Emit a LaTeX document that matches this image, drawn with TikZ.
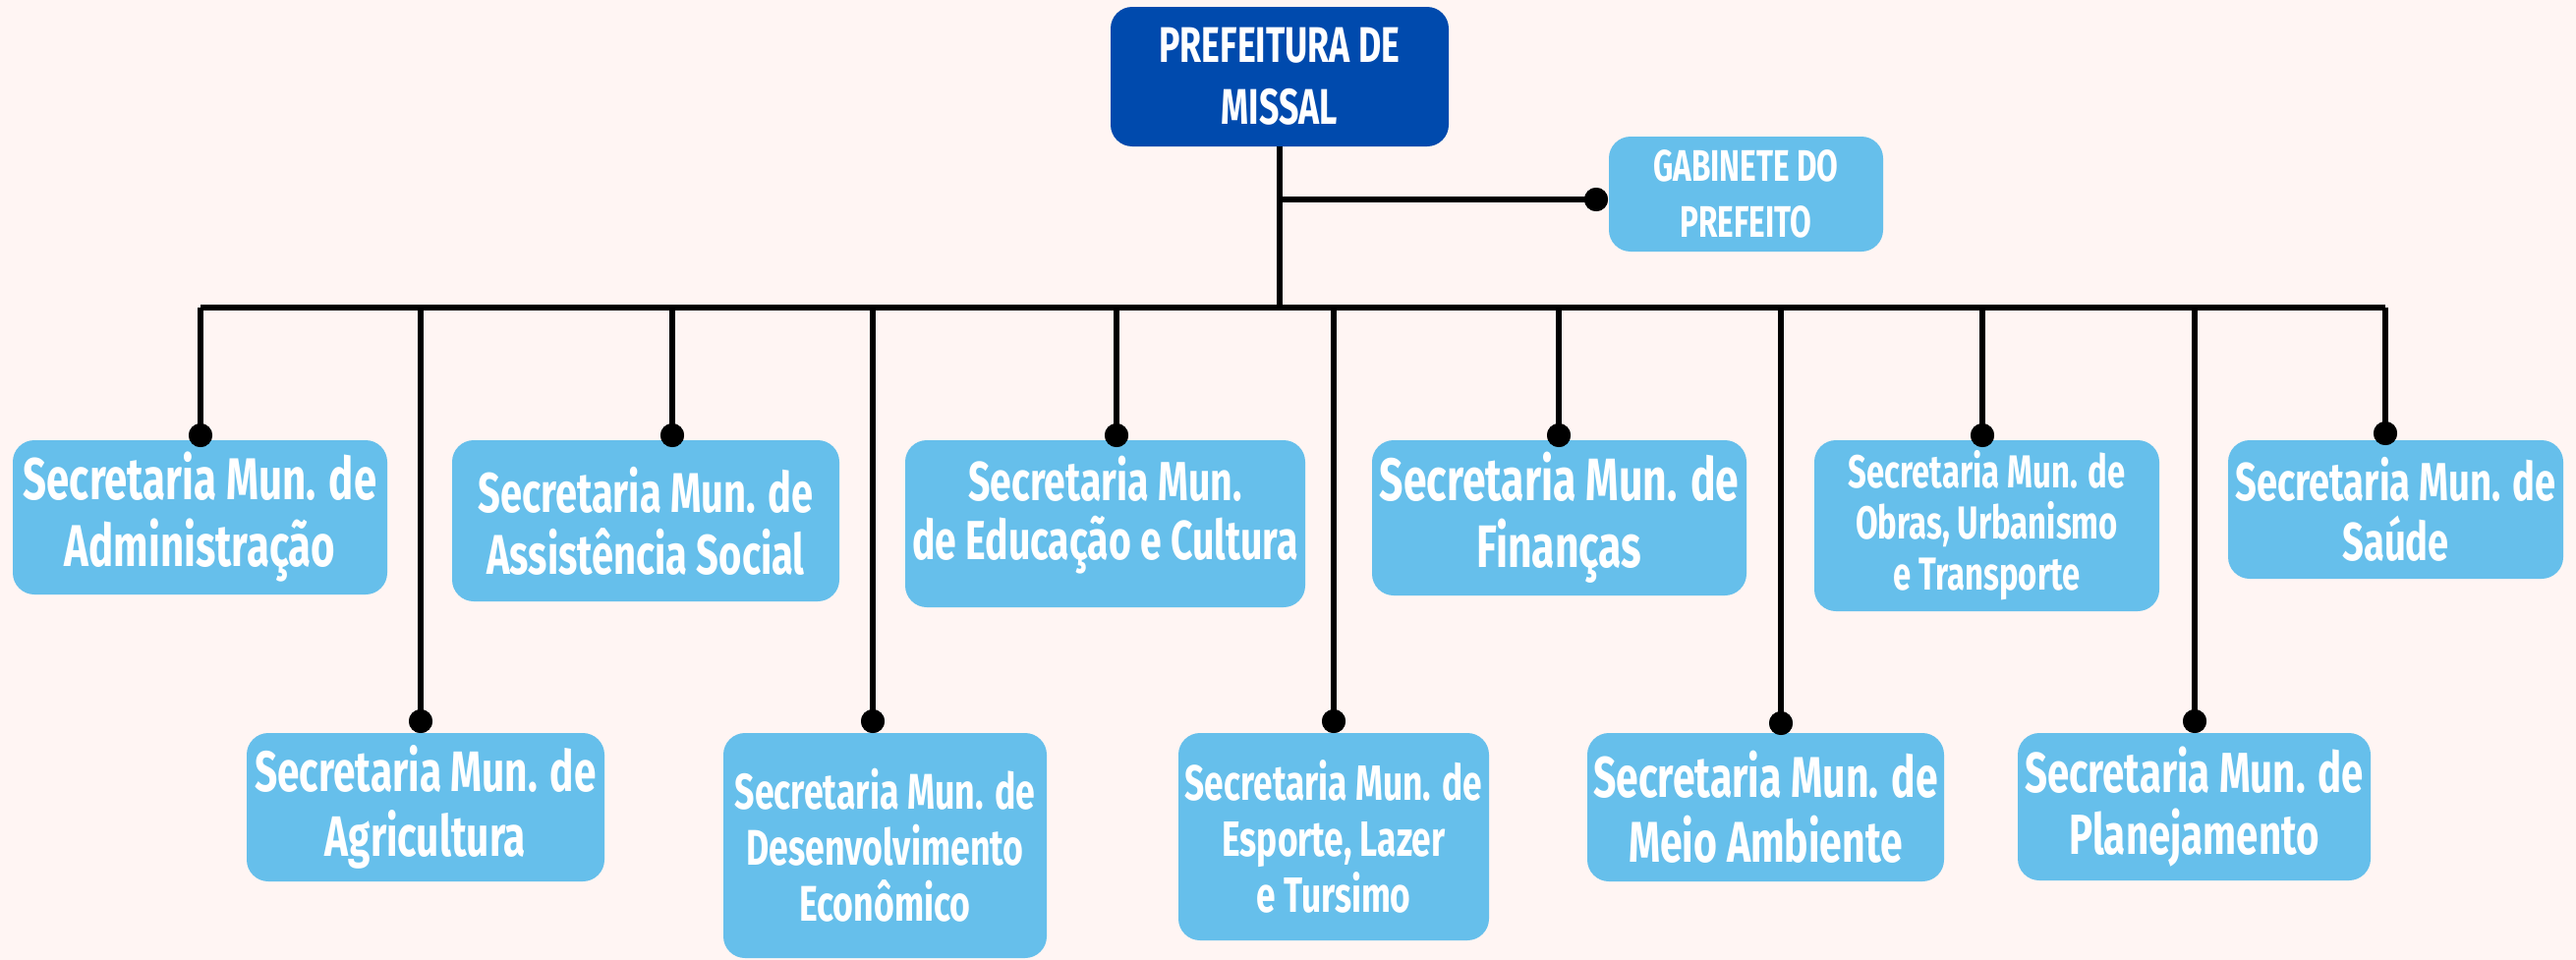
\documentclass[tikz,border=0pt]{standalone}
\usepackage{fontspec}
\newfontfamily\cond{Fira Sans}[FakeStretch=0.7]
\definecolor{bg}{HTML}{FFF5F3}
\definecolor{dblue}{HTML}{004AAD}
\definecolor{lblue}{HTML}{66BFEB}
\tikzset{
  bx/.style={rounded corners=22pt, text=white, align=center, inner sep=0pt},
  lbox/.style={bx, fill=lblue},
  dbox/.style={bx, fill=dblue},
  sz/.style 2 args={font=\cond\bfseries\fontsize{#1}{#2}\selectfont},
  conn/.style={line width=6pt, black},
  dotn/.style={circle, fill=black, minimum size=24pt, inner sep=0pt}
}
\begin{document}
\begin{tikzpicture}[x=1pt,y=-1pt]
\fill[bg] (0,0) rectangle (2621,977);
\useasboundingbox (0,0) rectangle (2621,977);
% boxes
\node[dbox, minimum width=344, minimum height=142, sz={51}{63}] (top) at (1302,78) {PREFEITURA DE\\MISSAL};
\node[lbox, minimum width=279, minimum height=117, sz={45}{57}] (gab) at (1776.5,197.5) {GABINETE DO\\PREFEITO};
\node[lbox, minimum width=381, minimum height=157, sz={60}{68}] (adm) at (203.5,526.5) {Secretaria Mun. de\\Administração};
\node[lbox, minimum width=394, minimum height=164, sz={57}{63}] (ass) at (657,530) {Secretaria Mun. de\\Assistência Social};
\node[lbox, minimum width=407, minimum height=170, sz={56}{60}] (edu) at (1124.5,533) {};
\node[sz={56}{60}, text=white, align=center, inner sep=0pt] (edut) at (1124.5,524) {Secretaria Mun.\\de Educação e Cultura};
\node[lbox, minimum width=381, minimum height=158, sz={61}{68}] (fin) at (1586.5,527) {Secretaria Mun. de\\Finanças};
\node[lbox, minimum width=351, minimum height=174, sz={47}{52}] (obr) at (2021.5,535) {Secretaria Mun. de\\Obras, Urbanismo\\e Transporte};
\node[lbox, minimum width=341, minimum height=141, sz={54.5}{61}] (sau) at (2437.5,518.5) {Secretaria Mun. de\\Saúde};
\node[lbox, minimum width=364, minimum height=151, sz={58}{66}] (agr) at (433,821.5) {Secretaria Mun. de\\Agricultura};
\node[lbox, minimum width=329, minimum height=229, sz={51}{57}] (des) at (900.5,860.5) {Secretaria Mun. de\\Desenvolvimento\\Econômico};
\node[lbox, minimum width=316, minimum height=211, sz={50.5}{57}] (esp) at (1357,851.5) {Secretaria Mun. de\\Esporte, Lazer\\e Tursimo};
\node[lbox, minimum width=363, minimum height=151, sz={58.5}{66}] (mei) at (1796.5,821.5) {Secretaria Mun. de\\Meio Ambiente};
\node[lbox, minimum width=359, minimum height=150, sz={57.5}{63}] (pla) at (2232.5,821) {Secretaria Mun. de\\Planejamento};
% dots
\node[dotn] (dgab) at (1624,203) {};
\node[dotn] (dadm) at (204,443) {};
\node[dotn] (dass) at (684,443) {};
\node[dotn] (dedu) at (1136,443) {};
\node[dotn] (dfin) at (1586,443) {};
\node[dotn] (dobr) at (2017,443) {};
\node[dotn] (dsau) at (2427,441) {};
\node[dotn] (dagr) at (428,734) {};
\node[dotn] (ddes) at (888,734) {};
\node[dotn] (desp) at (1357,734) {};
\node[dotn] (dmei) at (1812,736) {};
\node[dotn] (dpla) at (2233,734) {};
\coordinate (bus) at (1302,313);
\coordinate (gj) at (1302,203);
% connectors
\draw[conn] (top.south) -- (bus);
\draw[conn] (gj) -- (dgab.center);
\draw[conn] (dadm.center |- bus) -- (dsau.center |- bus);
\foreach \d in {dadm,dass,dedu,dfin,dobr,dsau,dagr,ddes,desp,dmei,dpla}
  \draw[conn] (\d.center) -- (\d.center |- bus);
% redraw dots on top
\foreach \d in {dgab,dadm,dass,dedu,dfin,dobr,dsau,dagr,ddes,desp,dmei,dpla}
  \fill (\d.center) circle (12pt);
\end{tikzpicture}
\end{document}
